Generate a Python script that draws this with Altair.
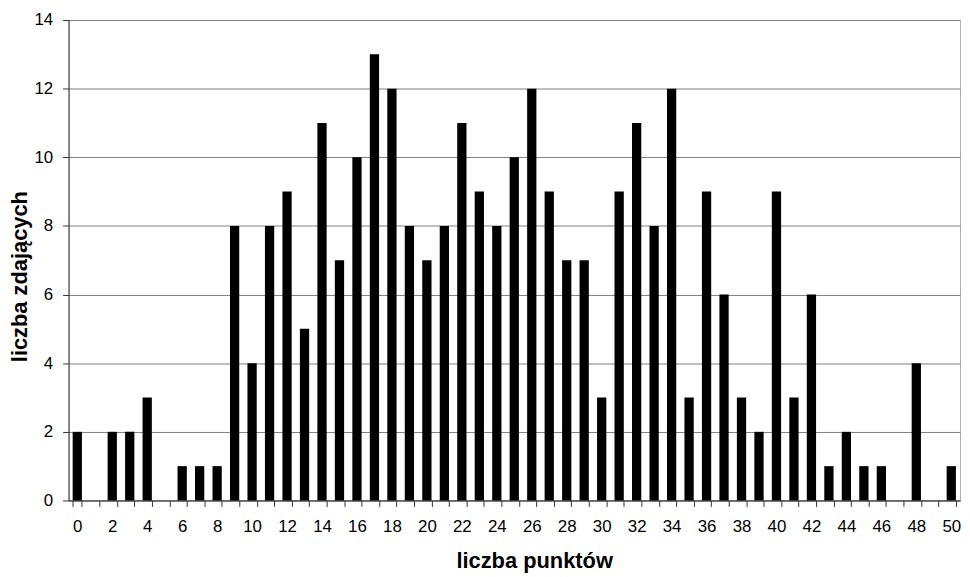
import altair as alt
import pandas as pd

punkty = list(range(0, 51))
zdajacy = [2, 0, 2, 2, 3, 0, 1, 1, 1, 8,
           4, 8, 9, 5, 11, 7, 10, 13, 12, 8,
           7, 8, 11, 9, 8, 10, 12, 9, 7, 7,
           3, 9, 11, 8, 12, 3, 9, 6, 3, 2,
           9, 3, 6, 1, 2, 1, 1, 0, 4, 0,
           1]

df = pd.DataFrame({"punkty": punkty, "zdajacy": zdajacy})

FONT = "Liberation Sans"

chart = alt.Chart(df).mark_bar(color="black").encode(
    x=alt.X("punkty:O",
            sort=punkty,
            scale=alt.Scale(paddingInner=0.47, paddingOuter=0.235),
            axis=alt.Axis(title="liczba punktów", labelAngle=0,
                          labelExpr="datum.value % 2 == 0 ? datum.label : ''",
                          tickBand="extent", tickSize=6, tickColor="#333333",
                          domainColor="#333333", labelFontSize=17,
                          labelPadding=12, labelFont=FONT, labelColor="black",
                          titleFont=FONT, titleFontSize=22, titleFontWeight="bold",
                          titleColor="black", titlePadding=17, titleX=469,
                          grid=False)),
    y=alt.Y("zdajacy:Q",
            scale=alt.Scale(domain=[0, 14], nice=False),
            axis=alt.Axis(title="liczba zdających", values=list(range(0, 15, 2)),
                          tickSize=6, tickColor="#333333", domainColor="#333333",
                          labelFontSize=17, labelPadding=10, labelFont=FONT,
                          labelColor="black", titleFont=FONT, titleFontSize=22,
                          titleFontWeight="bold", titleColor="black",
                          titlePadding=2, titleY=258, grid=True,
                          gridColor="#808080", gridWidth=1)),
).properties(
    width=898,
    height=484,
    autosize=alt.AutoSizeParams(type="none"),
    padding={"left": 61, "top": 10, "right": 2, "bottom": 74},
).configure_view(
    stroke="#b0b0b0"
)

chart.save("out.html", embed_options={"renderer": "svg", "actions": False})
